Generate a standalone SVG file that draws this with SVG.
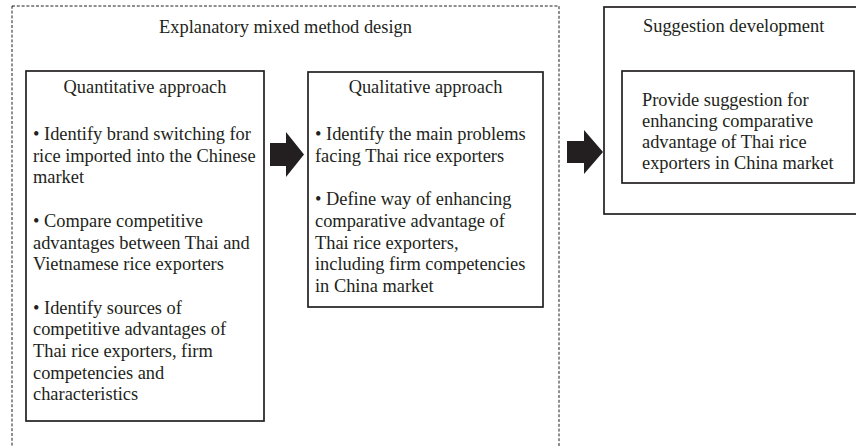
<svg xmlns="http://www.w3.org/2000/svg" width="856" height="446" viewBox="0 0 856 446">
  <style>
    text { font-family: "Liberation Serif", "Times New Roman", serif; font-size: 18.4px; fill: #231f20; }
    .mid { text-anchor: middle; }
    .box { fill: #ffffff; stroke: #231f20; stroke-width: 1.7; }
    .frame { fill: none; stroke: #231f20; stroke-width: 1; stroke-dasharray: 3 1.8; }
    .arrow { fill: #231f20; stroke: none; }
  </style>
  <rect width="856" height="446" fill="#ffffff"/>

  <!-- dashed frame around the two research phases -->
  <g id="mixed-method">
    <rect class="frame" x="12" y="6" width="547" height="460"/>
    <text class="mid" x="285.5" y="33">Explanatory mixed method design</text>
  </g>

  <!-- phase 1 -->
  <g id="quantitative">
    <rect class="box" x="26" y="71" width="238" height="350"/>
    <text class="mid" x="145" y="93">Quantitative approach</text>
    <text x="33" y="140">• Identify brand switching for</text>
    <text x="33" y="161.7">rice imported into the Chinese</text>
    <text x="33" y="183.4">market</text>
    <text x="33" y="226.8">• Compare competitive</text>
    <text x="33" y="248.5">advantages between Thai and</text>
    <text x="33" y="270.2">Vietnamese rice exporters</text>
    <text x="33" y="313.6">• Identify sources of</text>
    <text x="33" y="335.3">competitive advantages of</text>
    <text x="33" y="357">Thai rice exporters, firm</text>
    <text x="33" y="378.7">competencies and</text>
    <text x="33" y="400.4">characteristics</text>
  </g>

  <!-- phase 2 -->
  <g id="qualitative">
    <rect class="box" x="308" y="72" width="235" height="235"/>
    <text class="mid" x="425.5" y="93">Qualitative approach</text>
    <text x="315" y="140">• Identify the main problems</text>
    <text x="315" y="161.7">facing Thai rice exporters</text>
    <text x="315" y="205.1">• Define way of enhancing</text>
    <text x="315" y="226.8">comparative advantage of</text>
    <text x="315" y="248.5">Thai rice exporters,</text>
    <text x="315" y="270.2">including firm competencies</text>
    <text x="315" y="291.9">in China market</text>
  </g>

  <!-- final outcome -->
  <g id="suggestion">
    <rect class="box" x="604" y="7" width="262" height="207"/>
    <text x="643" y="32">Suggestion development</text>
    <rect class="box" x="622" y="71" width="232" height="112"/>
    <text x="642" y="106">Provide suggestion for</text>
    <text x="642" y="127">enhancing comparative</text>
    <text x="642" y="148">advantage of Thai rice</text>
    <text x="642" y="169">exporters in China market</text>
  </g>

  <!-- block arrows between phases -->
  <g id="connectors">
    <path class="arrow" d="M270,143 H286 V132 L304,154.5 L286,177 V166 H270 Z"/>
    <path class="arrow" d="M567,141 H584 V130 L603,152 L584,174 V163 H567 Z"/>
  </g>
</svg>
